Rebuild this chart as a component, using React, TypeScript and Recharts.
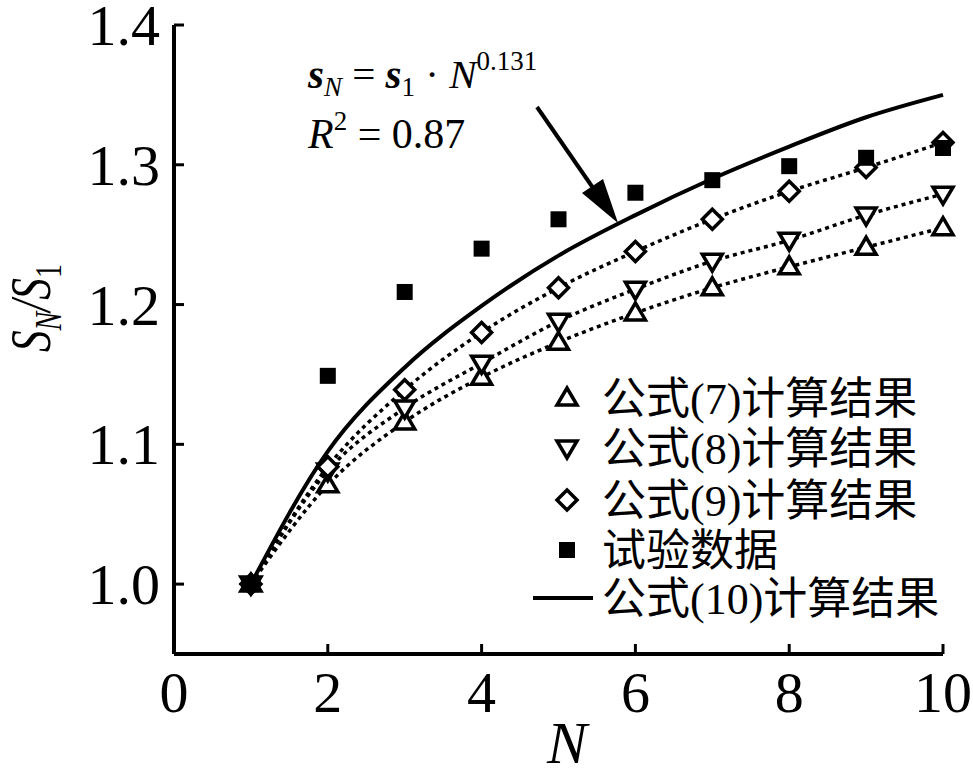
import React from "react";
import { ComposedChart, Line, Scatter, XAxis, YAxis, Customized } from "recharts";

const nValues = [1, 2, 3, 4, 5, 6, 7, 8, 9, 10];
const formula7 = [1.0, 1.071, 1.116, 1.148, 1.173, 1.194, 1.212, 1.227, 1.241, 1.255];
const formula8 = [1.0, 1.081, 1.126, 1.158, 1.188, 1.211, 1.231, 1.246, 1.264, 1.279];
const formula9 = [1.0, 1.084, 1.139, 1.18, 1.212, 1.238, 1.261, 1.281, 1.298, 1.316];
const testData = [1.0, 1.149, 1.209, 1.24, 1.261, 1.28, 1.289, 1.299, 1.305, 1.312];
const formula10 = [1.0, 1.095, 1.155, 1.199, 1.235, 1.264, 1.29, 1.313, 1.334, 1.35];

const xTicks = [0, 2, 4, 6, 8, 10];
const yTicks = [1.0, 1.1, 1.2, 1.3, 1.4];
const legendLabels = ["公式(7)计算结果", "公式(8)计算结果", "公式(9)计算结果", "试验数据", "公式(10)计算结果"];

const data = nValues.map((n, i) => ({
  n,
  f7: formula7[i],
  f8: formula8[i],
  f9: formula9[i],
  test: testData[i],
  f10: formula10[i],
}));

const SERIF = "Liberation Serif";
const CJK = "Liberation Serif, Noto Sans CJK SC";

const UpTri = ({ cx, cy }: any) => (
  <polygon
    points={`${cx},${cy - 10} ${cx + 10},${cy + 7} ${cx - 10},${cy + 7}`}
    fill="#fff"
    stroke="#000"
    strokeWidth={3.5}
  />
);
const DownTri = ({ cx, cy }: any) => (
  <polygon
    points={`${cx},${cy + 10} ${cx + 10},${cy - 7} ${cx - 10},${cy - 7}`}
    fill="#fff"
    stroke="#000"
    strokeWidth={3.5}
  />
);
const Diamond = ({ cx, cy }: any) => (
  <polygon
    points={`${cx},${cy - 10} ${cx + 10},${cy} ${cx},${cy + 10} ${cx - 10},${cy}`}
    fill="#fff"
    stroke="#000"
    strokeWidth={3.5}
  />
);
const Square = ({ cx, cy }: any) => <rect x={cx - 8} y={cy - 8} width={16} height={16} fill="#000" />;

const dotOf = (Shape: any) => (props: any) => <Shape key={props.index} cx={props.cx} cy={props.cy} />;

const XTick = ({ x, y, payload }: any) => (
  <g>
    <line x1={x} y1={y} x2={x} y2={y - 10} stroke="#000" strokeWidth={3} />
    <text x={x} y={y + 58} textAnchor="middle" fontSize={58} fontFamily={SERIF} fill="#000">
      {payload.value}
    </text>
  </g>
);

const YTick = ({ x, y, payload }: any) => (
  <g>
    <line x1={x} y1={y} x2={x + 10} y2={y} stroke="#000" strokeWidth={3} />
    <text x={x - 14} y={y + 20} textAnchor="end" fontSize={58} fontFamily={SERIF} fill="#000">
      {Number(payload.value).toFixed(1)}
    </text>
  </g>
);

// formula, arrow, axis titles and legend
const Annotations = () => {
  const rows = [398, 448, 500, 550, 598];
  const shapes = [UpTri, DownTri, Diamond, Square];
  const t = { fontFamily: SERIF };
  return (
    <g>
      <text x={308} y={88} fontSize={41} fontFamily={SERIF} fill="#000">
        <tspan {...t} fontStyle="italic" fontWeight="bold">s</tspan>
        <tspan {...t} fontStyle="italic" fontSize={27} dy={8}>N</tspan>
        <tspan {...t} dy={-8}> = </tspan>
        <tspan {...t} fontStyle="italic" fontWeight="bold">s</tspan>
        <tspan {...t} fontSize={27} dy={8}>1</tspan>
        <tspan {...t} dy={-8}> · </tspan>
        <tspan {...t} fontStyle="italic">N</tspan>
        <tspan {...t} fontSize={27} dy={-18}>0.131</tspan>
      </text>
      <text x={308} y={148} fontSize={42} fontFamily={SERIF} fill="#000">
        <tspan {...t} fontStyle="italic">R</tspan>
        <tspan {...t} fontSize={27} dy={-18}>2</tspan>
        <tspan {...t} dy={18}> = 0.87</tspan>
      </text>
      <line x1={537} y1={107} x2={600} y2={198} stroke="#000" strokeWidth={4} />
      <polygon points="618,223 582,193 603,179" fill="#000" />

      <text x={567} y={763} textAnchor="middle" fontSize={60} fontStyle="italic" fontFamily={SERIF} fill="#000">
        N
      </text>
      <text
        transform="translate(50,308) rotate(-90) scale(0.76,1)"
        textAnchor="middle"
        fontSize={57}
        fontFamily={SERIF}
        fill="#000"
      >
        <tspan {...t} fontStyle="italic">S</tspan>
        <tspan {...t} fontStyle="italic" fontSize={37} dy={11}>N</tspan>
        <tspan {...t} fontStyle="italic" dy={-11}>/S</tspan>
        <tspan {...t} fontSize={37} dy={11}>1</tspan>
      </text>

      {legendLabels.map((label, i) => {
        const y = rows[i];
        const Shape = shapes[i];
        return (
          <g key={label}>
            {Shape ? (
              <Shape cx={567} cy={y} />
            ) : (
              <line x1={533} y1={y} x2={593} y2={y} stroke="#000" strokeWidth={4} />
            )}
            <text x={602} y={y + 16} fontSize={44} fontFamily={CJK} fill="#000">
              {label}
            </text>
          </g>
        );
      })}
    </g>
  );
};

export default function App() {
  return (
    <div style={{ position: "absolute", left: 0, top: 0, background: "#fff" }}>
      <ComposedChart width={973} height={777} data={data} margin={{ top: 25, right: 30, left: 0, bottom: 0 }}>
        <XAxis
          dataKey="n"
          type="number"
          domain={[0, 10]}
          ticks={xTicks}
          height={123}
          tickSize={0}
          tickMargin={0}
          tickLine={false}
          axisLine={{ stroke: "#000", strokeWidth: 4 }}
          tick={(p: any) => <XTick {...p} />}
        />
        <YAxis
          type="number"
          domain={[0.95, 1.4]}
          ticks={yTicks}
          width={174}
          tickSize={0}
          tickMargin={0}
          tickLine={false}
          allowDataOverflow
          axisLine={{ stroke: "#000", strokeWidth: 4 }}
          tick={(p: any) => <YTick {...p} />}
        />
        <Line dataKey="f10" type="monotone" stroke="#000" strokeWidth={4} dot={false} isAnimationActive={false} />
        <Line dataKey="f7" type="monotone" stroke="#000" strokeWidth={3.5} strokeDasharray="4 4" dot={dotOf(UpTri)} isAnimationActive={false} />
        <Line dataKey="f8" type="monotone" stroke="#000" strokeWidth={3.5} strokeDasharray="4 4" dot={dotOf(DownTri)} isAnimationActive={false} />
        <Line dataKey="f9" type="monotone" stroke="#000" strokeWidth={3.5} strokeDasharray="4 4" dot={dotOf(Diamond)} isAnimationActive={false} />
        <Scatter dataKey="test" shape={(p: any) => <Square cx={p.cx} cy={p.cy} />} isAnimationActive={false} />
        <Customized component={Annotations} />
      </ComposedChart>
    </div>
  );
}
